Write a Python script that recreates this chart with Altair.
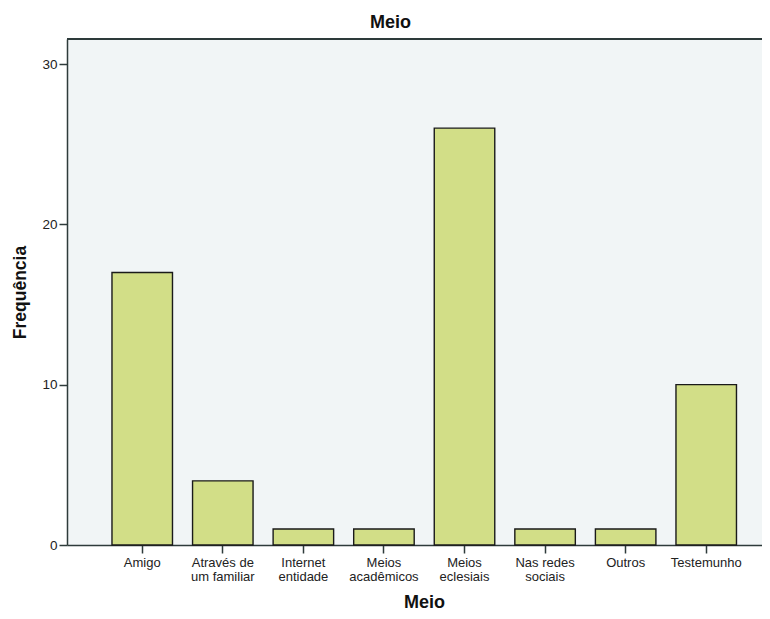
import altair as alt
import pandas as pd

categories = ["Amigo", "Através de um familiar", "Internet entidade", "Meios acadêmicos",
              "Meios eclesiais", "Nas redes sociais", "Outros", "Testemunho"]
label_lines = [["Amigo"], ["Através de", "um familiar"], ["Internet", "entidade"],
               ["Meios", "acadêmicos"], ["Meios", "eclesiais"], ["Nas redes", "sociais"],
               ["Outros"], ["Testemunho"]]
counts = [17, 4, 1, 1, 26, 1, 1, 10]
y_ticks = [0, 10, 20, 30]

df = pd.DataFrame({"Meio": categories, "Frequência": counts})

expr = "datum.value"
for cat, lines in reversed(list(zip(categories, label_lines))):
    arr = "[" + ",".join("'" + l + "'" for l in lines) + "]"
    expr = f"datum.value == '{cat}' ? {arr} : ({expr})"

W, H = 695, 506
FONT = "Liberation Sans"

bars = alt.Chart(df).mark_bar(
    color="#D2DE87", stroke="#1a1a1a", strokeWidth=1.4
).encode(
    x=alt.X("Meio:N", sort=categories,
            scale=alt.Scale(paddingInner=0.249, paddingOuter=0.4375, align=0.638),
            axis=alt.Axis(title="Meio", labelAngle=0, labelExpr=expr,
                          labelFont=FONT, labelFontSize=13, labelColor="#222222",
                          labelLineHeight=14.5, labelPadding=3,
                          tickSize=8, tickColor="#2e3b3b", tickWidth=1.5,
                          domainColor="#2e3b3b", domainWidth=1.5,
                          titleFont=FONT, titleFontSize=18, titleFontWeight="bold",
                          titleColor="#111111", titleX=357, titleY=57,
                          titleBaseline="middle", titleAlign="center")),
    y=alt.Y("Frequência:Q", scale=alt.Scale(domain=[0, 31.56], nice=False, zero=True),
            axis=alt.Axis(title="Frequência", values=y_ticks, grid=False,
                          labelFont=FONT, labelFontSize=13.5, labelColor="#222222",
                          labelPadding=2, tickSize=8, tickColor="#2e3b3b", tickWidth=1.5,
                          domainColor="#2e3b3b", domainWidth=1.5,
                          titleFont=FONT, titleFontSize=17.5, titleFontWeight="bold",
                          titleColor="#111111", titleX=-47, titleY=H / 2,
                          titleBaseline="middle", titleAlign="center")),
)

top_line = alt.Chart(df).mark_rule(color="#2e3b3b", strokeWidth=1.5).encode(
    x=alt.value(0), x2=alt.value(W), y=alt.value(0)
)

chart = alt.layer(bars, top_line).properties(
    width=W, height=H,
    title=alt.TitleParams("Meio", font=FONT, fontSize=18, fontWeight="bold",
                          color="#111111", anchor="middle", frame="group",
                          dx=-24, dy=3, offset=9),
    autosize=alt.AutoSizeParams(type="none"),
    padding={"left": 59, "top": 31, "right": 0, "bottom": 66},
).configure(background="white").configure_view(fill="#F1F5F6", stroke=None)

chart.save("out.html", embed_options={"renderer": "svg", "actions": False})
